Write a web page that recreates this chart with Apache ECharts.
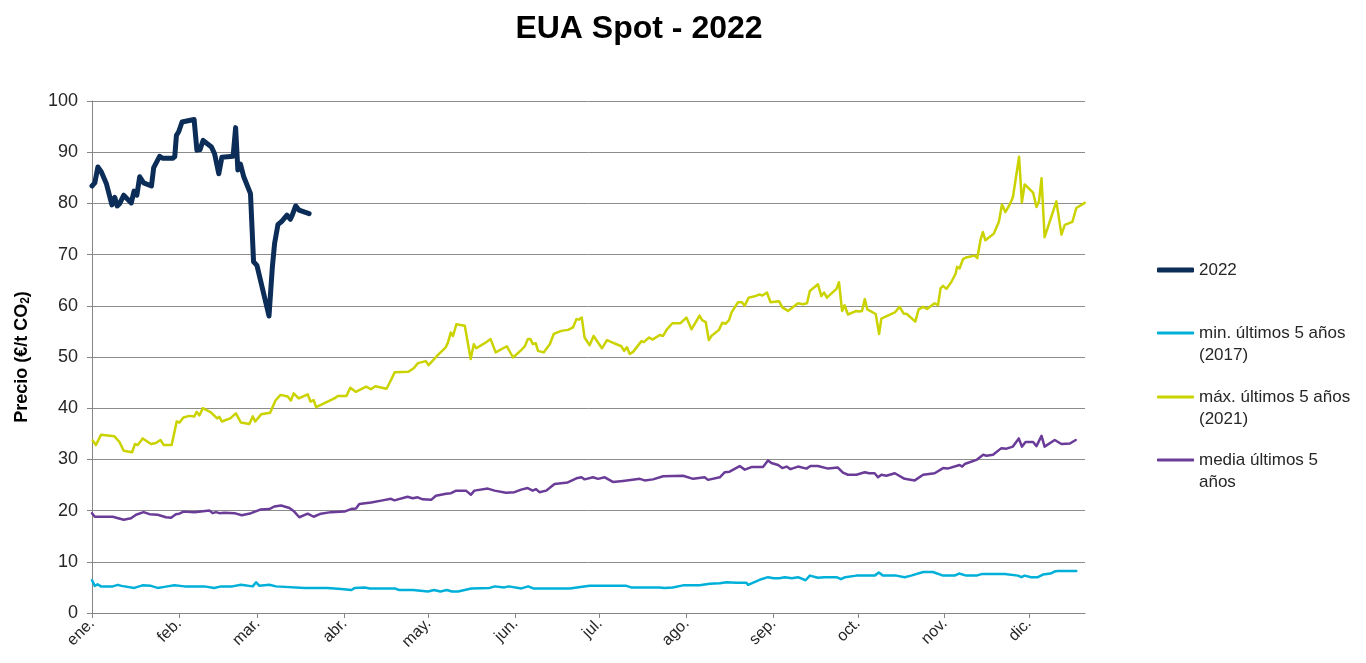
<!DOCTYPE html>
<html>
<head>
<meta charset="utf-8">
<script src="https://cdn.jsdelivr.net/npm/echarts@6/dist/echarts.min.js"></script>
<style>
html,body{margin:0;padding:0;background:#fff;}
#chart{width:1366px;height:663px;}
</style>
</head>
<body>
<div id="chart"></div>
<script>
// X axis: day of year 2022 (0 = 1 Jan)
var monthNames = ['ene.','feb.','mar.','abr.','may.','jun.','jul.','ago.','sep.','oct.','nov.','dic.'];
var monthStarts = [0,31,59,90,120,151,181,212,243,273,304,334];
var yTicks = [0,10,20,30,40,50,60,70,80,90,100];

var seriesNames = ['2022','min. últimos 5 años\n(2017)','máx. últimos 5 años\n(2021)','media últimos 5\naños'];

// 2022
var days2022 = [0,1,2.1,3.3,5.1,7.1,8.1,9,9.9,11.3,14,15,16,17,18.4,21.2,22,24.1,25.3,28.7,29.5,30.1,30.9,32.1,36.4,37.4,38.5,39.6,42.6,43.7,45.2,46.3,50.3,51.2,52,52.9,54.1,56.5,57.6,58.8,63.1,64.3,65.1,66.3,67.5,69.5,70.7,71.4,72.6,73.8,77.4];
var vals2022 = [83.4,84.0,87.1,86.2,83.9,79.7,81.2,79.5,80.0,81.6,80.1,82.4,81.6,85.2,84.0,83.4,87.0,89.2,88.8,88.8,89.1,93.3,94.0,95.9,96.4,90.4,90.5,92.3,91.0,89.7,85.8,89.0,89.2,94.8,86.5,87.7,85.2,81.9,68.6,67.9,58.0,67.6,72.2,75.9,76.4,77.7,76.9,77.7,79.5,78.7,78.0];

// min. últimos 5 años (2017)
var daysMin = [0,1,2,3.2,7.4,9.2,10.5,15.1,18,21,23.4,25.8,29.4,33,40,43.6,46,50,53.1,57.3,58.5,59.7,63.2,65.6,75.7,84,88.8,92.5,93.7,97.2,99,107.9,109.5,114.4,119.8,121.9,124.2,126.5,128.3,130.5,135.2,141.8,143.6,147,148.5,153.1,155.5,157.3,170.3,177.4,190.5,192.2,202.4,204,207,210.7,216.6,220.2,223.8,226.2,229.7,233.3,233.9,238.6,241,243,245,247,249.5,251.7,254.4,255.9,258.8,261,265.4,267,268.5,272.5,279,280.5,282,286.8,289.7,292,296.3,299.8,303.4,307.5,309.1,311.7,315.3,317.1,325.4,330.1,331.3,332.5,334.8,337.2,339,341.7,343.1,344.3,350.9];
var valsMin = [6.4,5.3,5.6,5.2,5.2,5.5,5.3,4.9,5.4,5.3,4.9,5.1,5.4,5.2,5.2,4.9,5.2,5.2,5.5,5.2,6.0,5.3,5.5,5.2,4.9,4.9,4.7,4.5,4.9,5.0,4.8,4.8,4.5,4.5,4.2,4.5,4.2,4.5,4.2,4.2,4.8,4.9,5.2,5.0,5.2,4.8,5.2,4.8,4.8,5.3,5.3,5.0,5.0,4.9,5.0,5.4,5.4,5.7,5.8,6.0,5.9,5.9,5.5,6.6,7.0,6.8,6.8,7.0,6.8,7.0,6.4,7.3,6.9,7.0,7.0,6.6,7.0,7.3,7.3,7.9,7.3,7.3,7.0,7.3,8.0,8.0,7.3,7.3,7.7,7.3,7.3,7.6,7.6,7.3,7.0,7.3,7.0,7.0,7.5,7.7,8.1,8.2,8.2];

// máx. últimos 5 años (2021)
var daysMax = [0.25,1.4,3.2,8,9.8,11.3,14.3,15.3,16.3,18.1,21,22.8,23.4,24.4,25.6,28.4,30.2,31.2,32.6,34.7,36.5,37.3,38.3,39.5,42.4,44.6,45.4,46.3,49.3,51.3,53.1,56.1,57.3,58.2,60.3,63.5,65.4,67.2,69.8,70.9,71.9,73.7,76.9,77.9,79,79.9,86.4,87.6,90.7,92.1,94,97.8,99.4,101,105,106.5,107.9,112.7,114.7,116.2,119,120,122.8,126.1,126.9,127.9,128.7,129.9,132.9,135,136.1,137,140,142.1,143.9,147.9,150.1,150.7,153.1,154.3,155.4,156.3,157.2,158.2,159,161,163.2,164.6,167.3,169.7,171.5,172.7,173.6,174.6,175.6,177.4,178.8,181.8,183.6,185.2,188.7,189.7,190.7,191.7,192.9,195.9,196.7,198.6,199.8,202.4,203.6,204.8,206.9,209.8,211.9,213.7,216.6,217.5,218.8,219.9,220.8,223.5,224.7,225.9,227.1,228,230.3,231.7,232.7,234.1,235.9,238,239,240.6,241.9,244.9,246.1,248.1,251.7,253.5,254.9,255.9,258.8,260,261,262,265.4,266.3,267.4,268.3,269.5,272.5,273.4,274.5,275.5,276.4,279.4,280.6,281.4,286.2,287.9,289.3,290.5,293.5,294.7,296.3,297.7,300.4,301.6,302.5,303.4,304.6,306.4,307.9,308.4,309.3,310.5,311.9,314.7,315.6,316.8,317.6,318.5,321.5,323.3,324.4,325.6,327.2,328.3,330.5,331.5,332.5,335.5,336.7,337.6,338.5,339.6,343.8,345.6,346.8,349.5,350.9,352.1,353.9];
var valsMax = [33.7,32.8,34.8,34.5,33.4,31.7,31.4,33.0,32.8,34.1,33.0,33.2,33.0,33.8,32.8,32.8,37.4,37.2,38.2,38.5,38.4,39.3,38.6,40.0,39.2,38.0,38.3,37.4,38.0,39.0,37.2,36.9,38.4,37.4,38.8,39.1,41.5,42.6,42.3,41.5,42.9,41.9,42.7,41.3,41.6,40.2,41.9,42.4,42.4,44.0,43.2,44.2,43.7,44.3,43.8,45.4,47.0,47.1,47.8,48.8,49.2,48.4,50.1,51.9,52.8,54.8,54.1,56.4,56.1,49.6,52.5,51.7,52.7,53.5,50.9,52.1,49.9,49.8,51.4,52.1,53.5,53.5,52.5,52.7,51.2,50.9,52.5,54.5,55.1,55.3,55.8,57.4,57.3,57.7,53.8,52.3,54.1,51.7,53.3,52.9,52.1,51.2,51.9,50.6,51.0,53.1,52.9,53.8,53.4,54.3,54.1,55.3,56.6,56.6,57.7,55.4,58.1,57.2,56.8,53.3,54.1,55.3,56.7,56.5,57.2,58.7,60.7,60.7,60.0,61.6,61.8,62.2,62.0,62.6,60.7,60.9,59.7,59.0,60.5,60.3,60.5,62.9,64.2,61.9,62.6,61.6,63.3,64.6,59.0,60.1,58.3,59.0,58.9,59.0,61.3,59.3,58.4,54.5,57.5,58.7,59.8,58.5,58.4,56.9,59.3,59.8,59.4,60.5,60.1,63.4,63.9,63.3,64.7,66.3,67.6,67.3,69.1,69.5,69.8,69.3,73.0,74.4,72.8,74.1,76.4,79.8,78.3,79.8,81.2,89.1,80.2,83.7,82.1,79.3,80.4,84.9,73.4,80.4,73.9,75.8,76.4,79.1,79.5,80.1];

// media últimos 5 años
var daysMed = [0,1,7.4,11.3,13.9,15.7,18.4,20.5,23.4,26.4,28.2,29.9,31.1,32.7,36.5,41.9,43,44.2,45.4,47.2,50.8,53.4,56.7,60,63.2,65,67.4,70.4,72.1,73.9,76.9,79,81.6,85.2,90,92.3,94.1,95.3,99.5,103.6,106.6,107.8,112.5,114.3,116.1,117.9,120.9,122.6,126.2,128,129.8,133.3,135.1,136.3,141.1,143.5,147.6,150.6,153,155.3,157.1,158.3,159.5,161.9,163.1,164.9,169.6,172.7,174.5,175.6,178.6,180.4,182.8,185.7,189.3,195.3,197,200,203.6,210.7,214.3,218.4,219.6,223.8,225.6,227.3,230.9,232.7,235.1,239.2,241,242.2,244.6,246.1,247.6,249,251.7,254.7,256.1,258.8,262.4,265.9,267.7,269.5,272.5,275.5,277,279,280.2,281.4,283.2,286.2,289.7,293.3,296.3,300.4,303.4,305,309.3,310.2,311.1,315.3,317.7,318.9,321.2,324.2,326,328.3,330.4,331.5,332.8,335.5,336.7,338.5,339.6,343.2,345.6,348.6,350.7];
var valsMed = [19.5,18.8,18.8,18.2,18.5,19.2,19.7,19.3,19.2,18.7,18.6,19.3,19.4,19.8,19.7,20.0,19.5,19.7,19.5,19.6,19.5,19.1,19.5,20.2,20.3,20.8,21.0,20.5,19.8,18.7,19.4,18.8,19.4,19.7,19.8,20.3,20.4,21.3,21.6,22.0,22.3,22.0,22.7,22.4,22.6,22.2,22.1,22.9,23.3,23.4,23.9,23.9,23.1,23.9,24.3,23.9,23.5,23.6,24.1,24.4,23.9,24.2,23.6,23.9,24.4,25.2,25.5,26.3,26.5,26.1,26.5,26.2,26.5,25.6,25.8,26.2,25.9,26.1,26.7,26.8,26.2,26.5,26.0,26.5,27.5,27.6,28.7,28.0,28.5,28.5,29.8,29.3,28.9,28.3,28.6,28.1,28.6,28.2,28.7,28.7,28.2,28.4,27.4,27.0,27.0,27.5,27.3,27.3,26.5,27.0,26.8,27.3,26.2,25.9,27.0,27.3,28.3,28.2,28.9,28.6,29.1,29.9,30.9,30.7,30.9,32.2,32.1,32.5,34.1,32.5,33.4,33.4,32.6,34.6,32.5,33.8,33.0,33.1,33.8];

function pairs(d, v) { return d.map(function (x, i) { return [x, v[i]]; }); }

var colors = ['#0B2D57', '#00B0D9', '#CAD300', '#6A3C98'];
var FONT = '"Liberation Sans", Arial, sans-serif';

function mkSeries(name, d, v, color, width, z) {
  return {
    name: name, type: 'line', data: pairs(d, v), symbol: 'none', showSymbol: false,
    z: z, color: color,
    lineStyle: { color: color, width: width, cap: 'round', join: 'round' },
    emphasis: { disabled: true }
  };
}

function mkLegend(name, top, thick) {
  return {
    data: [name], left: 1152, top: top, orient: 'vertical',
    icon: 'roundRect', itemWidth: 37, itemHeight: thick, itemGap: 5,
    formatter: function (n) { return n.indexOf('\n') >= 0 ? ' \n' + n : n; },
    textStyle: { fontFamily: FONT, fontSize: 17, color: '#262626', lineHeight: 22 }
  };
}

var chart = echarts.init(document.getElementById('chart'), null, { renderer: 'canvas' });
chart.setOption({
  animation: false,
  backgroundColor: '#ffffff',
  title: {
    text: 'EUA Spot - 2022', left: 634, top: 8, textAlign: 'center',
    textStyle: { fontFamily: FONT, fontSize: 32, fontWeight: 'bold', color: '#000' }
  },
  legend: [
    mkLegend(seriesNames[0], 254, 5),
    mkLegend(seriesNames[1], 295, 3),
    mkLegend(seriesNames[2], 359, 3),
    mkLegend(seriesNames[3], 422, 3)
  ],
  grid: { left: 92, right: 281, top: 101, bottom: 50, containLabel: false },
  xAxis: {
    type: 'value', min: 0, max: 354,
    axisLine: { show: true, onZero: false, lineStyle: { color: '#868686', width: 1 } },
    axisTick: { show: true, customValues: monthStarts, length: 5, lineStyle: { color: '#868686' } },
    axisLabel: {
      customValues: monthStarts, rotate: 45, margin: 8,
      fontFamily: FONT, fontSize: 16, color: '#262626',
      formatter: function (v) { var i = monthStarts.indexOf(v); return i >= 0 ? monthNames[i] : ''; }
    },
    splitLine: { show: false }
  },
  yAxis: {
    type: 'value', min: yTicks[0], max: yTicks[yTicks.length - 1], interval: 10,
    name: 'Precio (€/t CO{sub|2})', nameLocation: 'middle', nameGap: 60, nameRotate: 90,
    nameTextStyle: {
      fontFamily: FONT, fontSize: 18, fontWeight: 'bold', color: '#000',
      rich: { sub: { fontFamily: FONT, fontSize: 12, fontWeight: 'bold', color: '#000', verticalAlign: 'bottom', padding: [8, 0, 0, 0] } }
    },
    axisLine: { show: true, lineStyle: { color: '#868686', width: 1 } },
    axisTick: { show: true, length: 5, lineStyle: { color: '#868686' } },
    axisLabel: { fontFamily: FONT, fontSize: 18, color: '#262626', margin: 14 },
    splitLine: { show: true, lineStyle: { color: '#8C8C8C', width: 1 } }
  },
  series: [
    mkSeries(seriesNames[1], daysMin, valsMin, colors[1], 2.5, 2),
    mkSeries(seriesNames[2], daysMax, valsMax, colors[2], 2.5, 3),
    mkSeries(seriesNames[3], daysMed, valsMed, colors[3], 2.5, 4),
    mkSeries(seriesNames[0], days2022, vals2022, colors[0], 5, 5)
  ]
});
</script>
</body>
</html>
